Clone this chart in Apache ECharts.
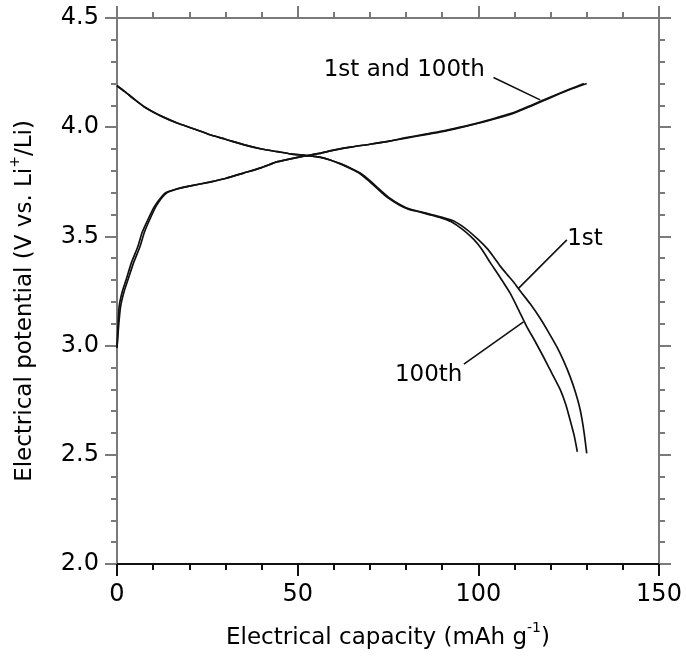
<!DOCTYPE html>
<html>
<head>
<meta charset="utf-8">
<script src="https://cdn.jsdelivr.net/npm/echarts@6/dist/echarts.min.js"></script>
<style>
html,body{margin:0;padding:0;background:#fff;}
#chart{width:686px;height:657px;}
</style>
</head>
<body>
<div id="chart"></div>
<script>
// ---- Data (capacity in mAh/g, potential in V vs Li+/Li) ----
var chargeCap1st = [0, 0.3, 0.6, 1.5, 2.5, 4, 5.7, 7, 8.5, 10.3, 12, 13.5, 16, 20, 26, 30, 35, 40, 44, 48, 52, 56, 60, 65, 70, 75, 80, 85, 90, 95, 100, 105, 110, 115, 120, 125, 130];
var chargeV1st   = [2.99, 3.10, 3.18, 3.25, 3.30, 3.38, 3.45, 3.52, 3.575, 3.635, 3.675, 3.70, 3.715, 3.73, 3.75, 3.765, 3.79, 3.815, 3.84, 3.855, 3.868, 3.88, 3.895, 3.91, 3.922, 3.935, 3.95, 3.965, 3.98, 3.998, 4.018, 4.04, 4.065, 4.10, 4.135, 4.17, 4.20];

var chargeCap100th = [0, 0.5, 1.0, 2.0, 3.0, 4.6, 6.3, 7.6, 9.0, 10.7, 12.3, 13.8, 16.2, 20, 26, 30, 35, 40, 44, 48, 52, 56, 60, 65, 70, 75, 80, 85, 90, 95, 100, 105, 110, 115, 120, 125, 129.2];
var chargeV100th   = [2.99, 3.10, 3.18, 3.25, 3.30, 3.38, 3.45, 3.52, 3.575, 3.635, 3.675, 3.70, 3.715, 3.73, 3.75, 3.765, 3.79, 3.815, 3.84, 3.855, 3.868, 3.88, 3.895, 3.91, 3.922, 3.935, 3.952, 3.967, 3.982, 4.0, 4.02, 4.043, 4.068, 4.103, 4.138, 4.172, 4.20];

var dischargeCap1st = [0, 2, 5, 7.5, 10, 13, 16.8, 20, 26, 30, 35, 40, 44.4, 48, 52.7, 56.4, 59, 62, 65, 67.4, 70, 72.9, 75.5, 78.5, 81, 84, 87, 90.4, 93.2, 96.9, 100, 102.4, 104.2, 106, 108, 109.8, 111.6, 114.4, 117.1, 119.4, 121.7, 123.6, 125.4, 126.9, 128.2, 129.2, 130];
var dischargeV1st   = [4.19, 4.165, 4.125, 4.094, 4.07, 4.045, 4.018, 4.0, 3.964, 3.945, 3.92, 3.90, 3.888, 3.878, 3.87, 3.862, 3.85, 3.832, 3.81, 3.789, 3.755, 3.712, 3.675, 3.644, 3.625, 3.613, 3.60, 3.585, 3.57, 3.53, 3.485, 3.445, 3.407, 3.365, 3.325, 3.29, 3.25, 3.19, 3.125, 3.062, 2.995, 2.93, 2.858, 2.785, 2.705, 2.61, 2.507];

var dischargeCap100th = [0, 2, 5, 7.5, 10, 13, 16.8, 20, 26, 30, 35, 40, 44.4, 48, 52.7, 56.4, 59, 61.8, 64.7, 67.1, 69.6, 72.5, 75.1, 78.1, 80.6, 83.5, 86.4, 89.7, 92.4, 95.8, 98.8, 101.0, 103.3, 105.0, 106.9, 108.8, 111.1, 113.4, 115.7, 118.0, 120.3, 122.7, 124.2, 125.4, 126.5, 127.4];
var dischargeV100th   = [4.19, 4.165, 4.125, 4.094, 4.07, 4.045, 4.018, 4.0, 3.964, 3.945, 3.92, 3.90, 3.888, 3.878, 3.87, 3.862, 3.85, 3.832, 3.81, 3.789, 3.755, 3.712, 3.675, 3.644, 3.625, 3.613, 3.60, 3.585, 3.568, 3.53, 3.485, 3.44, 3.38, 3.338, 3.29, 3.24, 3.165, 3.087, 3.02, 2.949, 2.875, 2.797, 2.73, 2.659, 2.59, 2.514];

// ---- Axes ----
var xTicks = [0, 50, 100, 150];
var yTicks = [2.0, 2.5, 3.0, 3.5, 4.0, 4.5];

// ---- Annotations (data coordinates) ----
var annoTexts = ['1st and 100th', '1st', '100th'];
var annoTextX = [57.2, 124.6, 95.6];
var annoTextY = [4.262, 3.488, 2.865];
var leaderStartX = [104.2, 124.5, 96.0];
var leaderStartY = [4.228, 3.484, 2.915];
var leaderEndX   = [117.1, 111.1, 112.5];
var leaderEndY   = [4.125, 3.262, 3.109];

function pairs(xs, ys){ return xs.map(function(x,i){ return [x, ys[i]]; }); }

var FONT = 'DejaVu Sans';
var INK = '#000';
var lineStyle = {color:'#111', width:1.7};

var chart = echarts.init(document.getElementById('chart'), null, {renderer:'canvas'});

function curve(name, xs, ys){
  return {
    name: name, type:'line', data: pairs(xs, ys), showSymbol:false, symbol:'none',
    smooth: 0.2, lineStyle: lineStyle, silent:true, animation:false, z:3
  };
}

var markLines = leaderStartX.map(function(x,i){
  return [{coord:[x, leaderStartY[i]]}, {coord:[leaderEndX[i], leaderEndY[i]]}];
});

var labelData = annoTexts.map(function(t,i){
  return {value:[annoTextX[i], annoTextY[i]], name:t,
    label:{position: (t === '100th') ? 'left' : 'right'}};
});

var axisGray = '#7a7a7a';
function xAxisCfg(pos, lineColor, showLabel){
  return {
    type:'value', position: pos, min: xTicks[0], max: xTicks[xTicks.length-1], interval: 50,
    axisLine:{show:true, onZero:false, lineStyle:{color:lineColor, width:2}},
    axisTick:{show:true, inside:false, length:12, lineStyle:{color:lineColor, width:2}},
    minorTick:{show:true, splitNumber:5, length:6, lineStyle:{color:lineColor, width:2}},
    splitLine:{show:false}, minorSplitLine:{show:false},
    axisLabel:{show:showLabel, margin:19, fontSize:24, fontFamily:FONT, color:INK}
  };
}
function yAxisCfg(pos, lineColor, showLabel){
  return {
    type:'value', position: pos, min: yTicks[0], max: yTicks[yTicks.length-1], interval: 0.5,
    axisLine:{show:true, onZero:false, lineStyle:{color:lineColor, width:2}},
    axisTick:{show:true, inside:false, length:12, lineStyle:{color:lineColor, width:2}},
    minorTick:{show:true, splitNumber:5, length:6, lineStyle:{color:lineColor, width:2}},
    splitLine:{show:false}, minorSplitLine:{show:false},
    axisLabel:{show:showLabel, margin:18, fontSize:24, fontFamily:FONT, color:INK,
      formatter:function(v){ return v.toFixed(1); }}
  };
}

var richName = {
  a:{fontSize:23, fontFamily:FONT, color:INK, lineHeight:34},
  s:{fontSize:14, fontFamily:FONT, color:INK, lineHeight:14, verticalAlign:'top'}
};

var xBottom = xAxisCfg('bottom', '#111', true);
xBottom.name = '{a|Electrical capacity (mAh g}{s|-1}{a|)}';
xBottom.nameLocation = 'middle';
xBottom.nameGap = 57;
xBottom.nameTextStyle = {rich: richName};
var xTop = xAxisCfg('top', axisGray, false);

var yLeft = yAxisCfg('left', axisGray, true);
yLeft.name = '{a|Electrical potential (V vs. Li}{s|+}{a|/Li)}';
yLeft.nameLocation = 'middle';
yLeft.nameGap = 75;
yLeft.nameTextStyle = {padding:[0, 20, 0, 0], rich: richName};
var yRight = yAxisCfg('right', axisGray, false);

chart.setOption({
  animation:false,
  backgroundColor:'#fff',
  grid:{left:116, right:27, top:18, bottom:93, containLabel:false},
  xAxis:[xBottom, xTop],
  yAxis:[yLeft, yRight],
  series:[
    curve('charge 1st', chargeCap1st, chargeV1st),
    curve('charge 100th', chargeCap100th, chargeV100th),
    curve('discharge 1st', dischargeCap1st, dischargeV1st),
    curve('discharge 100th', dischargeCap100th, dischargeV100th),
    {
      type:'scatter', data: labelData, symbolSize:0, silent:true, animation:false,
      itemStyle:{color:INK, opacity:1},
      label:{show:true, distance:0, formatter:function(p){ return p.name; },
        fontSize:23, fontFamily:FONT, color:INK, opacity:1},
      markLine:{
        silent:true, symbol:['none','none'], animation:false,
        label:{show:false},
        lineStyle:{color:'#111', width:1.6, type:'solid'},
        emphasis:{disabled:true},
        data: markLines
      }
    }
  ]
});
</script>
</body>
</html>
